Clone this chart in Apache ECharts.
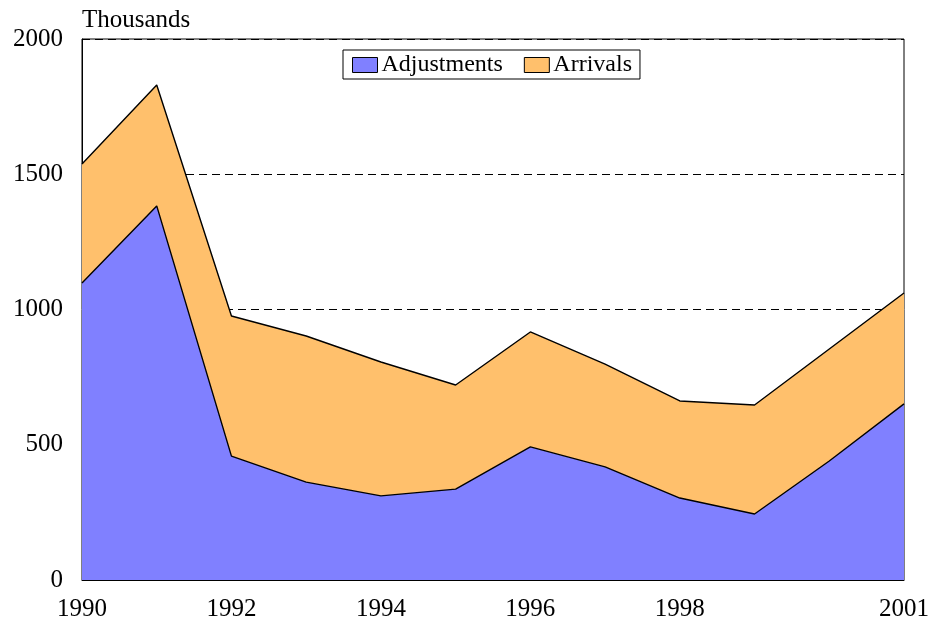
<!DOCTYPE html>
<html><head><meta charset="utf-8">
<script src="https://cdn.jsdelivr.net/npm/echarts@6/dist/echarts.min.js"></script>
<style>html,body{margin:0;padding:0;background:#fff}#c{width:932px;height:623px}</style>
</head><body><div id="c"></div>
<script>
const years = ['1990','1991','1992','1993','1994','1995','1996','1997','1998','1999','2000','2001'];
const shownYears = ['1990','1992','1994','1996','1998','2001'];
const adjustments = [1098,1383,458,362,311,336,492,418,303,244,440,651];
const arrivals = [440,447,518,540,495,385,425,380,359,403,414,410];
const yTicks = [0,500,1000,1500,2000];

const font = 'Liberation Serif';
const chart = echarts.init(document.getElementById('c'));
chart.setOption({
  animation: false,
  textStyle: {fontFamily: font},
  grid: {left: 82, right: 28, top: 39, bottom: 43, show: true, borderColor: '#000', borderWidth: 1,
         backgroundColor: 'transparent', outerBoundsMode: 'none', containLabel: false},
  legend: {
    top: 50, left: 343,
    data: ['Adjustments','Arrivals'],
    borderColor: '#000', borderWidth: 1, padding: [3, 8, 2, 9],
    itemWidth: 25, itemHeight: 15, itemGap: 21,
    textStyle: {fontFamily: font, fontSize: 24, color: '#000', padding: [0,0,0,-1]},
    icon: 'rect',
    itemStyle: {borderColor: '#000', borderWidth: 1}
  },
  xAxis: {
    type: 'category', data: years, boundaryGap: false,
    axisLine: {show: true, lineStyle: {color: '#000'}},
    axisTick: {show: false},
    axisLabel: {
      fontFamily: font, fontSize: 25, color: '#000', margin: 17,
      interval: (i, v) => shownYears.indexOf(v) >= 0,
      showMaxLabel: true
    },
    splitLine: {show: false}
  },
  yAxis: {
    type: 'value', min: 0, max: 2000, interval: 500,
    axisLine: {show: true, lineStyle: {color: '#000'}},
    axisTick: {show: false},
    axisLabel: {fontFamily: font, fontSize: 25, color: '#000', margin: 19,
      formatter: v => yTicks.indexOf(v) >= 0 ? String(v) : ''},
    splitLine: {show: true, lineStyle: {color: '#000', type: [8, 5], width: 1}},
    name: 'Thousands', nameLocation: 'end',
    nameTextStyle: {fontFamily: font, fontSize: 25, color: '#000', align: 'left', padding: [0,0,-2,0]},
    nameGap: 8
  },
  series: [
    {name: 'Adjustments', type: 'line', stack: 't', data: adjustments, symbol: 'none',
     lineStyle: {color: '#000', width: 1.4},
     itemStyle: {color: '#8080FF', borderColor: '#000'},
     areaStyle: {color: '#8080FF', opacity: 1}},
    {name: 'Arrivals', type: 'line', stack: 't', data: arrivals, symbol: 'none',
     lineStyle: {color: '#000', width: 1.4},
     itemStyle: {color: '#FFC06C', borderColor: '#000'},
     areaStyle: {color: '#FFC06C', opacity: 1}}
  ]
});
</script></body></html>
